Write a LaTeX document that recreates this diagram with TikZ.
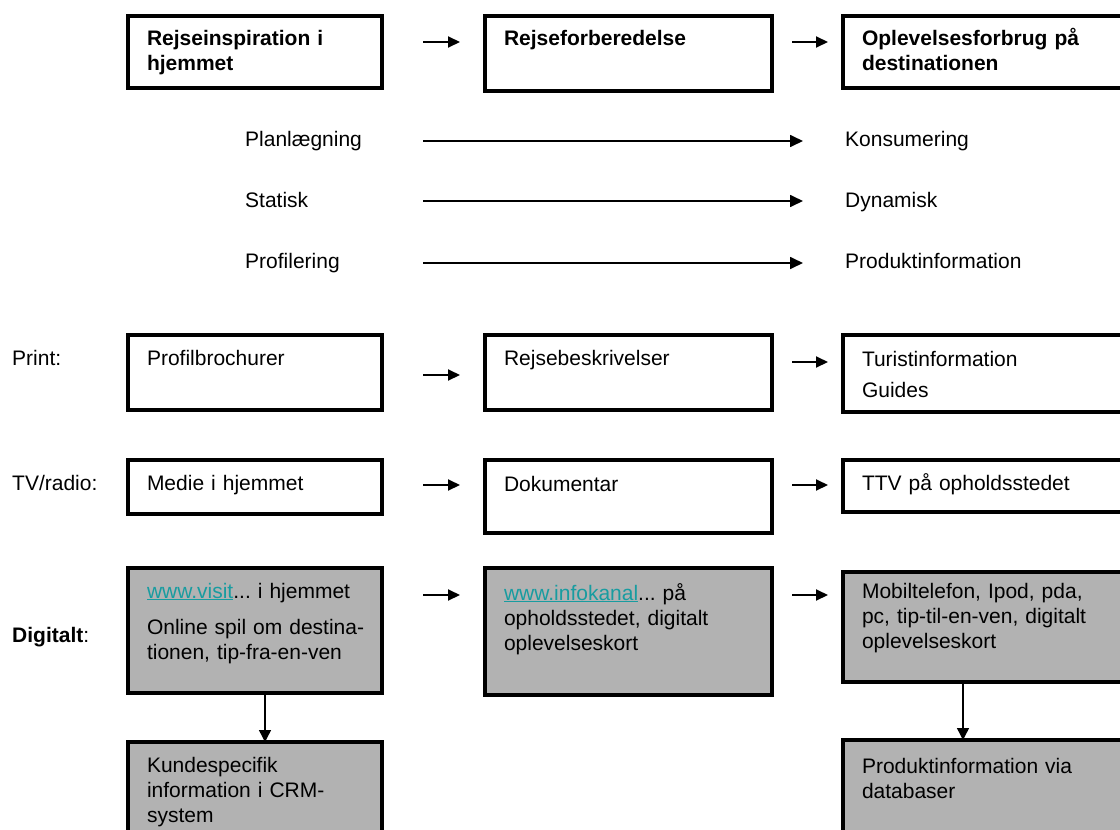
\documentclass[tikz,border=0pt]{standalone}
\usepackage{fontspec}
\setmainfont{Liberation Sans}
\usetikzlibrary{arrows.meta}
\definecolor{boxgrey}{RGB}{178,178,178}
\definecolor{linkteal}{RGB}{24,156,160}
\newcommand{\txtfont}{\fontsize{21}{25}\selectfont\frenchspacing}
\newcommand{\hdfont}{\fontsize{21}{25}\selectfont\bfseries\frenchspacing}
\newcommand{\weblink}[1]{\textcolor{linkteal}{\underline{#1}}}

\begin{document}
\begin{tikzpicture}[x=1pt, y=1pt,
    phasebox/.style={draw, line width=3.5pt, anchor=north west, outer sep=0pt,
        inner xsep=19pt, inner ysep=0pt, align=left, font=\txtfont},
    greybox/.style={phasebox, fill=boxgrey},
    colA/.style={text width=216pt},
    colB/.style={text width=249pt},
    colC/.style={text width=262pt},
    rowtag/.style={anchor=base west, inner sep=0pt, font=\txtfont},
    flow/.style={line width=2pt, -{Triangle[length=12pt, width=11pt]}},
    longflow/.style={line width=1.7pt, -{Triangle[length=13pt, width=12pt]}},
    downflow/.style={line width=1.4pt, -{Triangle[length=12pt, width=12pt]}}]
    \useasboundingbox (0, 0) rectangle (1120, -830);
    \clip (0, 0) rectangle (1120, -830);

    % Phases
    \node[phasebox, colA, font=\hdfont, text height=29pt, text depth=43pt] (top1) at (128, -16)
        {Rejseinspiration i\\hjemmet};
    \node[phasebox, colB, font=\hdfont, text height=29pt, text depth=46pt] (top2) at (485, -16)
        {Rejseforberedelse};
    \node[phasebox, colC, font=\hdfont, text height=29pt, text depth=43pt] (top3) at (843, -16)
        {Oplevelsesforbrug på\\destinationen};
    \draw[flow] ([shift={(41, -26)}]top1.north east) -- ([shift={(-25, -26)}]top2.north west);
    \draw[flow] ([shift={(20, -26)}]top2.north east) -- ([shift={(-15, -26)}]top3.north west);

    % Shifts
    \node[rowtag] (plan) at (245, -146) {Planlægning};
    \node[rowtag] (kons) at (845, -146) {Konsumering};
    \node[rowtag] (stat) at (245, -207) {Statisk};
    \node[rowtag] (dyn) at (845, -207) {Dynamisk};
    \node[rowtag] (prof) at (245, -268) {Profilering};
    \node[rowtag] (prodinf) at (845, -268) {Produktinformation};
    \draw[longflow] ([shift={(178, 5)}]plan.base west) -- ([shift={(-42, 5)}]kons.base west);
    \draw[longflow] ([shift={(178, 6)}]stat.base west) -- ([shift={(-42, 6)}]dyn.base west);
    \draw[longflow] ([shift={(178, 5)}]prof.base west) -- ([shift={(-42, 5)}]prodinf.base west);

    % Print
    \node[rowtag] (lprint) at (12, -365) {Print:};
    \node[phasebox, colA, text height=30pt, text depth=45pt] (pr1) at (128, -335)
        {Profilbrochurer};
    \node[phasebox, colB, text height=30pt, text depth=45pt] (pr2) at (485, -335)
        {Rejsebeskrivelser};
    \node[phasebox, colC, text height=31pt, text depth=46pt] (pr3) at (843, -335)
        {Turistinformation\\[6pt]Guides};
    \draw[flow] ([shift={(41, -40)}]pr1.north east) -- ([shift={(-25, -40)}]pr2.north west);
    \draw[flow] ([shift={(20, -27)}]pr2.north east) -- ([shift={(-15, -27)}]pr3.north west);

    % TV/radio
    \node[rowtag] (ltv) at (12, -490) {TV/radio:};
    \node[phasebox, colA, text height=30pt, text depth=24pt] (tv1) at (128, -460)
        {Medie i hjemmet};
    \node[phasebox, colB, text height=31pt, text depth=42pt] (tv2) at (485, -460)
        {Dokumentar};
    \node[phasebox, colC, text height=30pt, text depth=22pt] (tv3) at (843, -460)
        {TTV på opholdsstedet};
    \draw[flow] ([shift={(41, -25)}]tv1.north east) -- ([shift={(-25, -25)}]tv2.north west);
    \draw[flow] ([shift={(20, -25)}]tv2.north east) -- ([shift={(-15, -25)}]tv3.north west);

    % Digitalt
    \node[rowtag] (ldig) at (12, -642) {\textbf{Digitalt}:};
    \node[greybox, colA, text height=30pt, text depth=95pt] (dig1) at (128, -568)
        {\weblink{www.visit}... i hjemmet\\[11pt]\mbox{Online spil om destina-}\\tionen, tip-fra-en-ven};
    \node[greybox, colB, text height=32pt, text depth=95pt] (dig2) at (485, -568)
        {\weblink{www.infokanal}... på\\opholdsstedet, digitalt\\oplevelseskort};
    \node[greybox, colC, text height=26pt, text depth=84pt] (dig3) at (843, -572)
        {Mobiltelefon, Ipod, pda,\\pc, tip-til-en-ven, digitalt\\oplevelseskort};
    \draw[flow] ([shift={(41, -27)}]dig1.north east) -- ([shift={(-25, -27)}]dig2.north west);
    \draw[flow] ([shift={(20, -27)}]dig2.north east) -- ([shift={(-15, -23)}]dig3.north west);

    \node[greybox, colA, text height=30pt, text depth=75pt] (bot1) at (128, -742)
        {Kundespecifik\\information i CRM-\\system};
    \node[greybox, colC, text height=33pt, text depth=75pt] (bot3) at (843, -740)
        {Produktinformation via\\databaser};
    \draw[downflow] ([xshift=10]dig1.south) -- ([xshift=10]bot1.north);
    \draw[downflow] ([xshift=120]dig3.south west) -- ([xshift=120]bot3.north west);
\end{tikzpicture}
\end{document}
